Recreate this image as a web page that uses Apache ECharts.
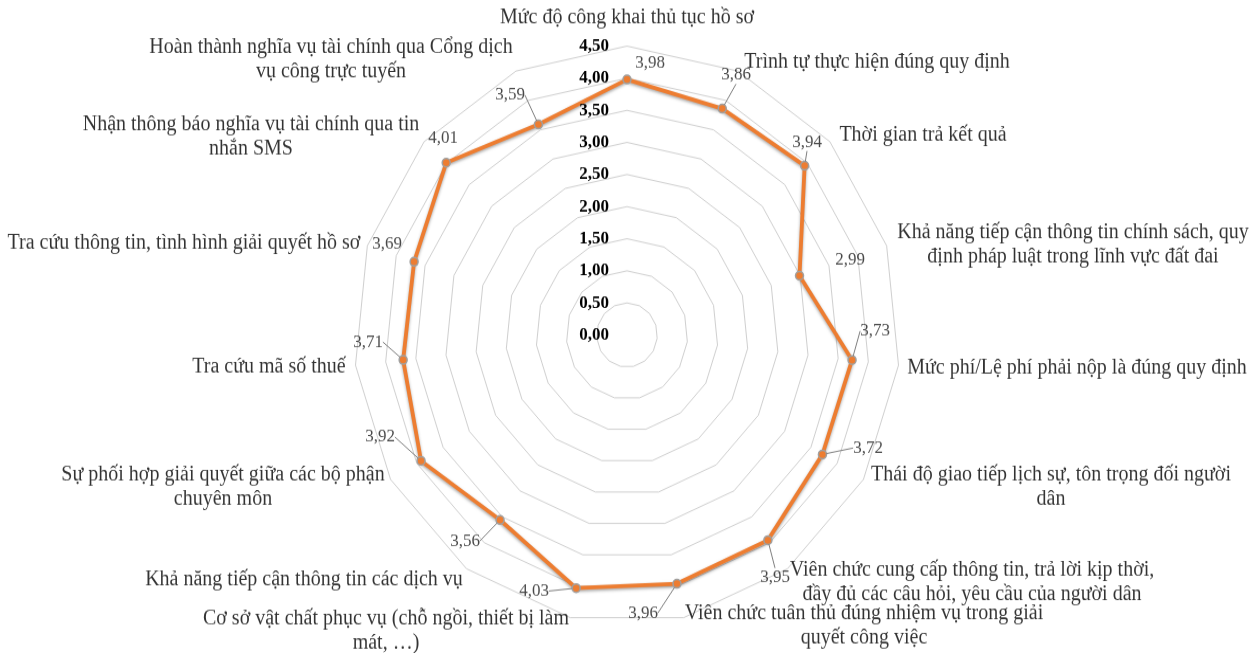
<!DOCTYPE html>
<html>
<head>
<meta charset="utf-8">
<script src="https://cdn.jsdelivr.net/npm/echarts@6/dist/echarts.min.js"></script>
<style>
html,body{margin:0;padding:0;background:#fff;width:1252px;height:653px}
#wrap{width:1252px;height:617px;transform:scaleY(1.0583);transform-origin:0 0}
#chart{width:1252px;height:617px}
</style>
</head>
<body>
<div id="wrap"><div id="chart"></div></div>
<script>
// ---- data ----
const categories = [
  'Mức độ công khai thủ tục hồ sơ',
  'Trình tự thực hiện đúng quy định',
  'Thời gian trả kết quả',
  'Khả năng tiếp cận thông tin chính sách, quy\nđịnh pháp luật trong lĩnh vực đất đai',
  'Mức phí/Lệ phí phải nộp là đúng quy định',
  'Thái độ giao tiếp lịch sự, tôn trọng đối người\ndân',
  'Viên chức cung cấp thông tin, trả lời kịp thời,\nđầy đủ các câu hỏi, yêu cầu của người dân',
  'Viên chức tuân thủ đúng nhiệm vụ trong giải\nquyết công việc',
  'Cơ sở vật chất phục vụ (chỗ ngồi, thiết bị làm\nmát, …)',
  'Khả năng tiếp cận thông tin các dịch vụ',
  'Sự phối hợp giải quyết giữa các bộ phận\nchuyên môn',
  'Tra cứu mã số thuế',
  'Tra cứu thông tin, tình hình giải quyết hồ sơ',
  'Nhận thông báo nghĩa vụ tài chính qua tin\nnhắn SMS',
  'Hoàn thành nghĩa vụ tài chính qua Cổng dịch\nvụ công trực tuyến'
];
const scores = [3.98, 3.86, 3.94, 2.99, 3.73, 3.72, 3.95, 3.96, 4.03, 3.56, 3.92, 3.71, 3.69, 4.01, 3.59];
const axisMin = 0;
const axisMax = 4.5;
const tickStep = 0.5;

// ---- layout (positions in the page's pixel space) ----
const SY = 1.0583;
const CX = 627, CY = 335 / SY, R = 273;
const FONT = 'Liberation Serif';
const nameCenters = [
  [627, 18], [877, 62], [923, 135], [1073, 245], [1077, 368],
  [1051, 487], [972, 582], [864, 626], [386, 631], [304, 580],
  [223, 487], [269, 367], [184, 243], [251, 137], [331, 60]
];
const valueLabelPos = [
  [650, 63, false], [736, 75, true], [807, 142, true], [850, 260, false], [875, 331, true],
  [868, 448, true], [775, 577, true], [643, 613, true], [534, 591, true], [465, 541, true],
  [380, 437, true], [368, 342, true], [387, 244, false], [443, 138, false], [510, 95, true]
];

const n = categories.length;
const fmt = v => v.toFixed(2).replace('.', ',');
// radar places indicators counter-clockwise; reorder so they run clockwise
const order = categories.map((_, i) => (n - i) % n);
const angleOf = i => i * 360 / n;

const chart = echarts.init(document.getElementById('chart'), null, {renderer: 'canvas'});
chart.setOption({
  backgroundColor: '#fff',
  animation: false,
  textStyle: {fontFamily: FONT},
  radar: {
    center: [CX, CY],
    radius: R,
    startAngle: 90,
    shape: 'polygon',
    splitNumber: Math.round((axisMax - axisMin) / tickStep),
    indicator: order.map(i => ({name: categories[i], min: axisMin, max: axisMax})),
    axisName: {show: false},
    axisLine: {show: false},
    axisTick: {show: false},
    axisLabel: {show: false},
    splitLine: {lineStyle: {color: '#D0D0D0', width: 1}},
    splitArea: {show: false}
  },
  polar: {center: [CX, CY], radius: R},
  angleAxis: {
    type: 'value', min: 0, max: 360, startAngle: 90, clockwise: true,
    axisLine: {show: false}, axisTick: {show: false}, axisLabel: {show: false}, splitLine: {show: false}
  },
  radiusAxis: {
    type: 'value', min: axisMin, max: axisMax, interval: tickStep,
    axisLine: {show: false}, axisTick: {show: false}, splitLine: {show: false},
    axisLabel: {
      show: true, formatter: v => fmt(v), fontFamily: FONT, fontWeight: 'bold',
      fontSize: 17, color: '#000', margin: 18
    },
    z: 10
  },
  series: [
    {
      type: 'radar',
      symbol: 'circle',
      symbolSize: 8,
      lineStyle: {color: '#ED7D31', width: 3.8, shadowColor: 'rgba(0,0,0,0.35)', shadowBlur: 3, shadowOffsetY: 1.5},
      itemStyle: {color: '#ED7D31', borderColor: '#A0A0A0', borderWidth: 1.5},
      data: [{value: order.map(i => scores[i]), name: 'Điểm'}],
      z: 3
    },
    {
      type: 'scatter',
      coordinateSystem: 'polar',
      silent: true,
      symbolSize: 8,
      itemStyle: {color: 'rgba(0,0,0,0)'},
      data: scores.map((v, i) => ({value: [v, angleOf(i)], labelLine: {show: valueLabelPos[i][2]}})),
      label: {
        show: true, formatter: p => fmt(scores[p.dataIndex]),
        fontFamily: FONT, fontSize: 17, color: '#1A1A1A'
      },
      labelLine: {show: true, lineStyle: {color: '#7F7F7F', width: 1}},
      labelLayout: p => ({
        x: valueLabelPos[p.dataIndex][0], y: valueLabelPos[p.dataIndex][1] / SY,
        align: 'center', verticalAlign: 'middle'
      }),
      z: 6
    },
    {
      type: 'scatter',
      coordinateSystem: 'polar',
      silent: true,
      symbolSize: 1,
      itemStyle: {color: 'rgba(0,0,0,0)'},
      data: categories.map((c, i) => [axisMax, angleOf(i)]),
      label: {
        show: true, formatter: p => categories[p.dataIndex],
        fontFamily: FONT, fontSize: 20, lineHeight: 23, color: '#000', align: 'center'
      },
      labelLayout: p => ({
        x: nameCenters[p.dataIndex][0], y: nameCenters[p.dataIndex][1] / SY,
        align: 'center', verticalAlign: 'middle'
      }),
      z: 6
    }
  ]
});
</script>
</body>
</html>
